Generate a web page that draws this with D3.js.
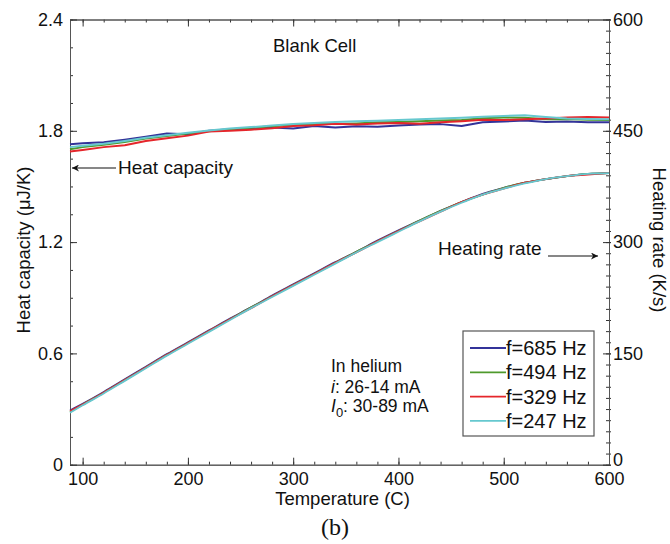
<!DOCTYPE html>
<html lang="en">
<head>
  <meta charset="utf-8">
  <title>Blank Cell - heat capacity and heating rate</title>
  <script src="https://d3js.org/d3.v7.min.js"></script>
  <style>
    body { margin: 0; background: #fff; }
    svg { display: block; font-family: Arial, "Liberation Sans", sans-serif; }
  </style>
</head>
<body>
  <svg id="chart"></svg>
  <script>
    // temperatures (C) at which curves were read
    const temps = [88, 100, 120, 140, 160, 180, 200, 220, 240, 260, 280, 300, 320, 340,
                   360, 380, 400, 420, 440, 460, 480, 500, 520, 540, 560, 580, 600];

    // heat capacity (uJ/K)
    const cpBlue  = [1.728, 1.733, 1.738, 1.752, 1.768, 1.785, 1.782, 1.800, 1.808, 1.812, 1.818, 1.812, 1.826, 1.818,
                     1.824, 1.822, 1.828, 1.834, 1.836, 1.826, 1.846, 1.850, 1.856, 1.848, 1.850, 1.846, 1.846];
    const cpGreen = [1.700, 1.712, 1.725, 1.740, 1.758, 1.772, 1.786, 1.798, 1.808, 1.816, 1.824, 1.832, 1.838, 1.836,
                     1.840, 1.846, 1.848, 1.852, 1.856, 1.858, 1.868, 1.872, 1.870, 1.862, 1.864, 1.860, 1.858];
    const cpRed   = [1.688, 1.697, 1.712, 1.722, 1.745, 1.760, 1.774, 1.796, 1.800, 1.806, 1.814, 1.826, 1.830, 1.838,
                     1.834, 1.840, 1.842, 1.838, 1.846, 1.852, 1.860, 1.858, 1.862, 1.866, 1.872, 1.874, 1.872];
    const cpCyan  = [1.712, 1.720, 1.730, 1.745, 1.762, 1.776, 1.790, 1.802, 1.812, 1.820, 1.828, 1.836, 1.842, 1.848,
                     1.852, 1.854, 1.858, 1.862, 1.866, 1.870, 1.876, 1.880, 1.884, 1.874, 1.866, 1.864, 1.862];

    // heating rate (K/s)
    const rateBlue  = [73, 82, 98, 115, 132, 149, 165, 181, 197, 212, 228, 243, 258, 273,
                       287, 302, 316, 329, 342, 354, 365, 373, 380, 385, 389, 392, 393];
    const rateGreen = [71, 81, 97, 114, 131, 148, 164, 180, 196, 212, 227, 242, 257, 272,
                       287, 301, 315, 329, 342, 354, 364, 373, 380, 385, 389, 392, 393];
    const rateRed   = [72, 81, 97, 114, 131, 148, 164, 180, 196, 211, 227, 242, 257, 272,
                       286, 301, 315, 328, 341, 354, 364, 372, 380, 385, 389, 391, 393];
    const rateCyan  = [70, 80, 96, 113, 130, 147, 163, 179, 195, 211, 226, 241, 256, 271,
                       286, 300, 314, 328, 341, 353, 364, 372, 379, 385, 389, 392, 393];

    const freqLabels = ["f=685 Hz", "f=494 Hz", "f=329 Hz", "f=247 Hz"];
    const colors = ["#333399", "#4f9a2c", "#e5262b", "#66c8cf"];

    const xTicks = [100, 200, 300, 400, 500, 600];
    const leftTicks = [0, 0.6, 1.2, 1.8, 2.4];
    const rightTicks = [0, 150, 300, 450, 600];

    const series = freqLabels.map((name, i) => ({
      name,
      color: colors[i],
      cp: [cpBlue, cpGreen, cpRed, cpCyan][i],
      rate: [rateBlue, rateGreen, rateRed, rateCyan][i]
    }));

    const width = 670, height = 544;
    const mLeft = 70, mRight = 609, mTop = 19.5, mBottom = 464.7;

    const svg = d3.select("#chart").attr("width", width).attr("height", height);

    const x = d3.scaleLinear().domain([88, 600]).range([mLeft, mRight]);
    const yL = d3.scaleLinear().domain([0, 2.4]).range([mBottom, mTop]);
    const yR = d3.scaleLinear().domain([0, 600]).range([mBottom, mTop]);

    const axisColor = "#555";
    const tickFont = "18px";

    function styleAxis(g) {
      g.select(".domain").attr("stroke", axisColor);
      g.selectAll(".tick line").attr("stroke", "#333");
      g.selectAll(".tick text").attr("fill", "#111").style("font-size", tickFont);
    }

    // minor ticks first
    const xMinor = d3.range(100, 601, 20);
    const lMinor = d3.range(0, 2.41, 0.15);
    const rMinor = d3.range(0, 601, 15);

    svg.append("g").attr("transform", `translate(0,${mBottom})`)
      .call(d3.axisBottom(x).tickValues(xMinor).tickSizeInner(-3).tickSizeOuter(0).tickFormat(""))
      .call(styleAxis);
    svg.append("g").attr("transform", `translate(0,${mTop})`)
      .call(d3.axisTop(x).tickValues(xMinor).tickSizeInner(-3).tickSizeOuter(0).tickFormat(""))
      .call(styleAxis);
    svg.append("g").attr("transform", `translate(${mLeft},0)`)
      .call(d3.axisLeft(yL).tickValues(lMinor).tickSizeInner(-3).tickSizeOuter(0).tickFormat(""))
      .call(styleAxis);
    svg.append("g").attr("transform", `translate(${mRight},0)`)
      .call(d3.axisRight(yR).tickValues(rMinor).tickSizeInner(-3).tickSizeOuter(0).tickFormat(""))
      .call(styleAxis)
      .call(g => g.selectAll(".tick line").attr("x1", 2));

    // major ticks + labels
    svg.append("g").attr("transform", `translate(0,${mBottom})`)
      .call(d3.axisBottom(x).tickValues(xTicks).tickSizeInner(-7).tickSizeOuter(0).tickPadding(7.5).tickFormat(d3.format("d")))
      .call(styleAxis);
    svg.append("g").attr("transform", `translate(0,${mTop})`)
      .call(d3.axisTop(x).tickValues(xTicks).tickSizeInner(-7).tickSizeOuter(0).tickFormat(""))
      .call(styleAxis);
    svg.append("g").attr("transform", `translate(${mLeft},0)`)
      .call(d3.axisLeft(yL).tickValues(leftTicks).tickSizeInner(-7).tickSizeOuter(0).tickPadding(7)
        .tickFormat(d => d === 0 ? "0" : d3.format(".1f")(d)))
      .call(styleAxis);
    svg.append("g").attr("transform", `translate(${mRight},0)`)
      .call(d3.axisRight(yR).tickValues(rightTicks).tickSizeInner(-6).tickSizeOuter(0).tickPadding(4).tickFormat(d3.format("d")))
      .call(styleAxis)
      .call(g => g.selectAll(".tick line").attr("x1", 2))
      // the bottom "0" sits a little higher, as in the original
      .call(g => g.selectAll(".tick text").filter(d => d === 0).attr("dy", "0.05em"));

    // axis titles
    svg.append("text")
      .attr("x", (mLeft + mRight) / 2 + 3).attr("y", 505)
      .attr("text-anchor", "middle").style("font-size", "18.5px").attr("fill", "#111")
      .text("Temperature (C)");
    svg.append("text")
      .attr("transform", "translate(30,250) rotate(-90)")
      .attr("text-anchor", "middle").style("font-size", "18.5px").attr("fill", "#111")
      .text("Heat capacity (\u03bcJ/K)");
    svg.append("text")
      .attr("transform", "translate(653,240) rotate(90)")
      .attr("text-anchor", "middle").style("font-size", "18.5px").attr("fill", "#111")
      .text("Heating rate (K/s)");
    svg.append("text")
      .attr("x", 335).attr("y", 535)
      .attr("text-anchor", "middle")
      .style("font-family", "'Times New Roman', 'Liberation Serif', serif").style("font-size", "24px")
      .attr("fill", "#111")
      .text("(b)");

    // data lines
    const cpLine = d3.line().x((d, i) => x(temps[i])).y(d => yL(d));
    const rateLine = d3.line().x((d, i) => x(temps[i])).y(d => yR(d)).curve(d3.curveMonotoneX);

    const plot = svg.append("g");
    series.forEach(s => {
      plot.append("path").attr("d", rateLine(s.rate))
        .attr("fill", "none").attr("stroke", s.color).attr("stroke-width", 1.8);
    });
    series.forEach(s => {
      plot.append("path").attr("d", cpLine(s.cp))
        .attr("fill", "none").attr("stroke", s.color).attr("stroke-width", 2)
        .attr("stroke-linejoin", "round");
    });

    // annotations
    const defs = svg.append("defs");
    defs.append("marker")
      .attr("id", "arrow").attr("viewBox", "0 0 10 10")
      .attr("refX", 10).attr("refY", 5)
      .attr("markerWidth", 9).attr("markerHeight", 7).attr("markerUnits", "userSpaceOnUse")
      .attr("orient", "auto")
      .append("path").attr("d", "M0,0 L10,5 L0,10 L3,5 Z").attr("fill", "#111");

    const note = svg.append("g").style("font-size", "19px").attr("fill", "#111");
    note.append("text").attr("x", 273).attr("y", 52).style("font-size", "18.5px").text("Blank Cell");
    note.append("text").attr("x", 118).attr("y", 174).text("Heat capacity");
    note.append("text").attr("x", 438).attr("y", 255).text("Heating rate");

    svg.append("line").attr("x1", 116).attr("y1", 168).attr("x2", 72).attr("y2", 168)
      .attr("stroke", "#111").attr("stroke-width", 1.2).attr("marker-end", "url(#arrow)");
    svg.append("line").attr("x1", 548).attr("y1", 256).attr("x2", 598).attr("y2", 256)
      .attr("stroke", "#111").attr("stroke-width", 1.2).attr("marker-end", "url(#arrow)");

    const cond = svg.append("g").style("font-size", "17.5px").attr("fill", "#111");
    cond.append("text").attr("x", 331).attr("y", 372).text("In helium");
    const l2 = cond.append("text").attr("x", 331).attr("y", 393);
    l2.append("tspan").style("font-style", "italic").text("i");
    l2.append("tspan").text(": 26-14 mA");
    const l3 = cond.append("text").attr("x", 331).attr("y", 412);
    l3.append("tspan").style("font-style", "italic").text("I");
    l3.append("tspan").attr("dy", 5).style("font-size", "13px").text("0");
    l3.append("tspan").attr("dy", -5).text(": 30-89 mA");

    // legend
    const legend = svg.append("g");
    legend.append("rect")
      .attr("x", 463).attr("y", 331).attr("width", 131).attr("height", 105)
      .attr("fill", "#fff").attr("stroke", "#555").attr("stroke-width", 1.2);
    series.forEach((s, i) => {
      const yy = 348 + i * 24.3;
      legend.append("line").attr("x1", 470).attr("x2", 506).attr("y1", yy).attr("y2", yy)
        .attr("stroke", s.color).attr("stroke-width", 1.8);
      legend.append("text").attr("x", 506).attr("y", yy).attr("dy", "0.35em")
        .style("font-size", "20px").attr("fill", "#111").text(s.name);
    });
  </script>
</body>
</html>
